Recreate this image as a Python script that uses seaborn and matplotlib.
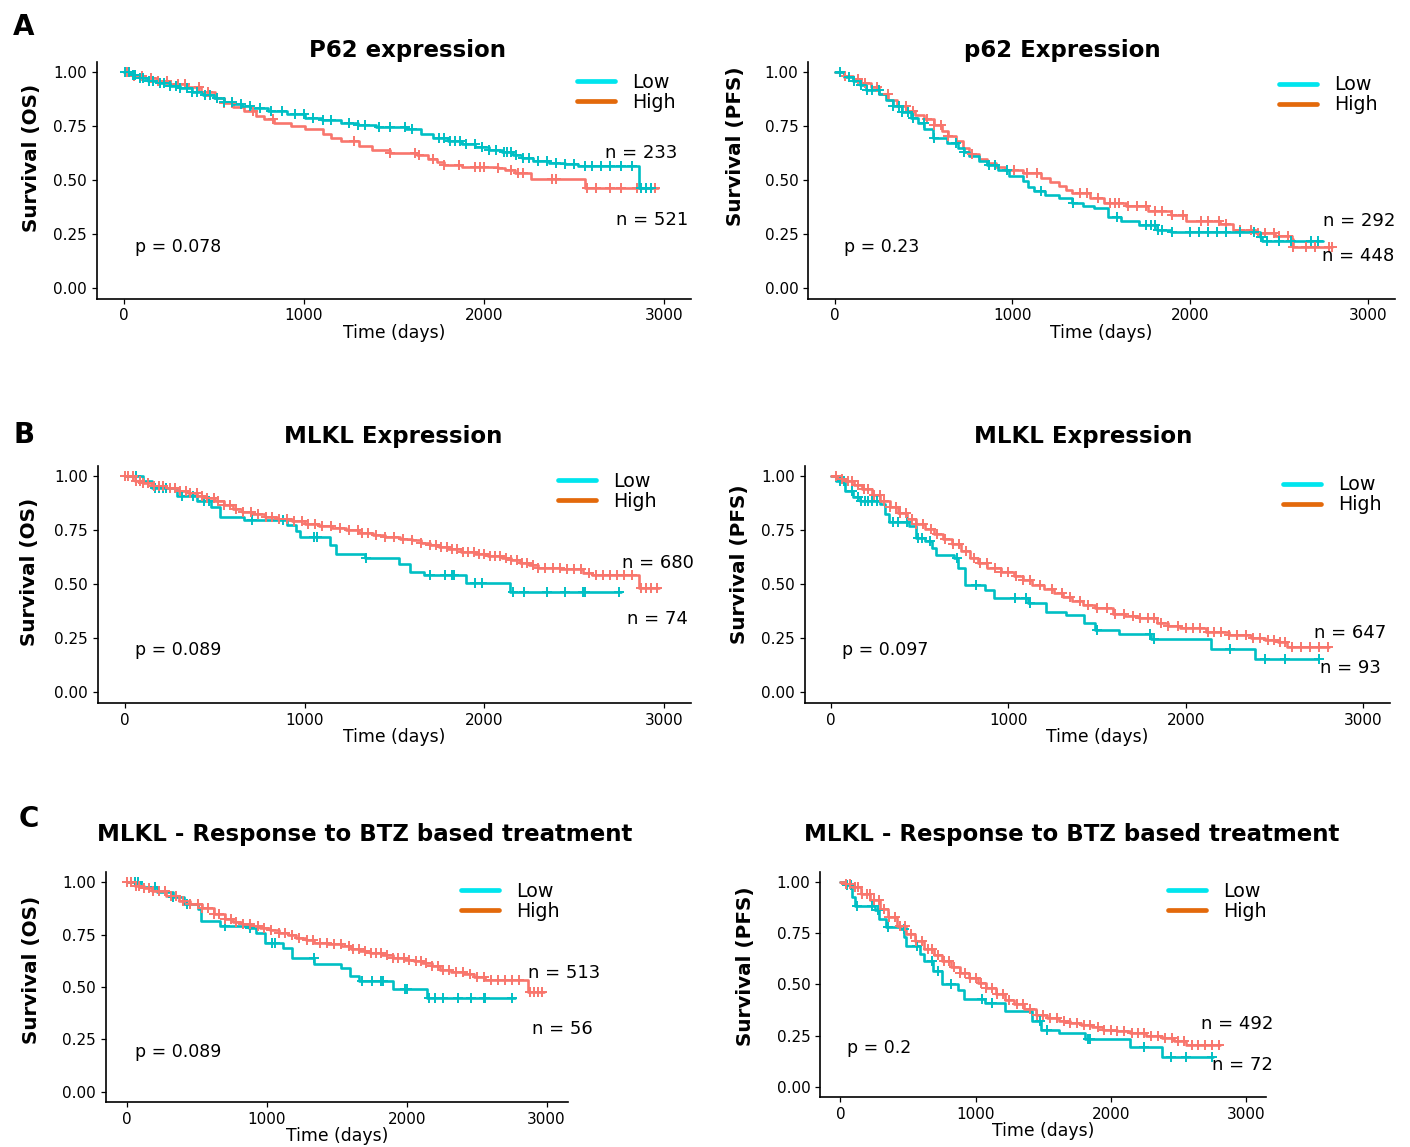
import numpy as np
import matplotlib
matplotlib.use("Agg")
import matplotlib.pyplot as plt
from matplotlib.lines import Line2D
import seaborn as sns

sns.set_style("white")
plt.rcParams['font.family'] = ['DejaVu Sans']
plt.rcParams['text.color'] = 'black'
plt.rcParams['axes.labelcolor'] = 'black'
plt.rcParams['xtick.color'] = 'black'
plt.rcParams['ytick.color'] = 'black'

# ---- data: Kaplan-Meier step points (time in days, survival) and censor times ----
# A, OS
a_os_low_t = [0, 40, 90, 137, 200, 260, 311, 380, 440, 500, 560, 609, 660, 708, 800, 907, 1007, 1100, 1206,
              1300, 1404, 1566, 1653, 1720, 1802, 1880, 1951, 2030, 2100, 2160, 2212, 2274, 2360, 2448, 2523,
              2859, 2933]
a_os_low_s = [1.0, 0.99, 0.975, 0.961, 0.95, 0.938, 0.927, 0.91, 0.895, 0.883, 0.862, 0.852, 0.842, 0.834,
              0.822, 0.809, 0.790, 0.778, 0.767, 0.757, 0.746, 0.736, 0.712, 0.697, 0.681, 0.667, 0.653, 0.642,
              0.631, 0.618, 0.603, 0.588, 0.580, 0.575, 0.565, 0.463, 0.463]
a_os_low_cens = [10, 30, 50, 65, 90, 110, 140, 165, 200, 225, 260, 290, 315, 350, 380, 410, 450, 480, 520, 560,
                 600, 650, 700, 760, 820, 880, 950, 1000, 1050, 1110, 1150, 1250, 1300, 1340, 1420, 1480, 1560,
                 1600, 1750, 1780, 1810, 1840, 1865, 1900, 1950, 1990, 2030, 2070, 2110, 2130, 2150, 2180, 2215,
                 2250, 2300, 2350, 2400, 2450, 2500, 2560, 2600, 2650, 2700, 2760, 2820, 2870, 2900, 2930]
a_os_high_t = [0, 60, 120, 186, 260, 360, 430, 510, 560, 609, 670, 733, 780, 833, 932, 1007, 1106, 1150, 1206,
               1305, 1380, 1479, 1628, 1690, 1740, 1777, 1877, 2076, 2120, 2175, 2262, 2560, 2965]
a_os_high_s = [1.0, 0.985, 0.972, 0.961, 0.947, 0.933, 0.91, 0.883, 0.86, 0.84, 0.82, 0.798, 0.782, 0.767,
               0.751, 0.736, 0.712, 0.697, 0.681, 0.658, 0.639, 0.627, 0.616, 0.596, 0.585, 0.572, 0.561, 0.557,
               0.545, 0.533, 0.507, 0.463, 0.463]
a_os_high_cens = [20, 60, 100, 150, 190, 240, 300, 340, 420, 470, 520, 560, 600, 720, 830, 1280, 1480, 1620,
                  1640, 1720, 1780, 1860, 1950, 1980, 2000, 2080, 2150, 2190, 2220, 2380, 2400, 2570, 2620,
                  2700, 2760, 2850, 2950]

# A, PFS
a_pfs_low_t = [0, 50, 101, 140, 176, 252, 290, 328, 380, 429, 470, 504, 555, 630, 693, 730, 756, 810, 857, 920,
               983, 1059, 1090, 1122, 1185, 1260, 1336, 1400, 1462, 1538, 1613, 1714, 1815, 1891, 2395, 2407,
               2748]
a_pfs_low_s = [1.0, 0.98, 0.961, 0.94, 0.918, 0.899, 0.87, 0.844, 0.815, 0.79, 0.765, 0.736, 0.697, 0.673,
               0.65, 0.63, 0.611, 0.59, 0.572, 0.545, 0.518, 0.495, 0.47, 0.451, 0.432, 0.417, 0.393, 0.382,
               0.37, 0.331, 0.308, 0.292, 0.269, 0.261, 0.238, 0.218, 0.218]
a_pfs_low_cens = [30, 80, 110, 150, 180, 210, 250, 330, 360, 380, 410, 440, 500, 560, 680, 730, 870, 900, 970,
                  1160, 1340, 1590, 1750, 1780, 1800, 1820, 1840, 1900, 2000, 2050, 2100, 2150, 2200, 2280,
                  2360, 2400, 2430, 2500, 2570, 2680, 2720]
a_pfs_high_t = [0, 50, 101, 150, 202, 250, 302, 350, 403, 450, 504, 560, 605, 640, 681, 720, 756, 810, 857,
                910, 958, 1059, 1160, 1210, 1260, 1300, 1336, 1437, 1513, 1638, 1765, 1891, 1979, 2168, 2244,
                2370, 2480, 2571, 2580, 2798]
a_pfs_high_s = [1.0, 0.985, 0.969, 0.95, 0.93, 0.9, 0.871, 0.845, 0.821, 0.80, 0.782, 0.755, 0.728, 0.705,
                0.681, 0.65, 0.619, 0.598, 0.58, 0.563, 0.549, 0.533, 0.51, 0.49, 0.471, 0.455, 0.44, 0.417,
                0.393, 0.378, 0.358, 0.339, 0.308, 0.295, 0.269, 0.253, 0.24, 0.227, 0.19, 0.19]
a_pfs_high_cens = [60, 130, 170, 240, 300, 400, 440, 520, 560, 600, 640, 770, 1010, 1080, 1140, 1380, 1420,
                   1480, 1550, 1580, 1600, 1650, 1700, 1750, 1800, 1840, 1900, 1960, 2060, 2100, 2160, 2200,
                   2280, 2340, 2380, 2420, 2470, 2500, 2550, 2580, 2650, 2700, 2780, 2800]

# B, OS
b_os_low_t = [0, 100, 154, 292, 404, 478, 528, 665, 902, 952, 977, 1139, 1176, 1338, 1525, 1588, 1662, 1899,
              2143, 2758]
b_os_low_s = [1.0, 0.981, 0.947, 0.911, 0.888, 0.86, 0.813, 0.798, 0.776, 0.748, 0.72, 0.682, 0.642, 0.623,
              0.595, 0.558, 0.542, 0.506, 0.464, 0.464]
b_os_low_cens = [60, 170, 190, 210, 230, 320, 380, 440, 470, 710, 880, 1050, 1070, 1340, 1700, 1780, 1820,
                 1830, 1950, 1990, 2160, 2220, 2350, 2450, 2550, 2560, 2750]
b_os_high_t = [0, 55, 100, 154, 230, 304, 350, 404, 450, 503, 550, 603, 650, 703, 780, 852, 930, 1002, 1080,
               1151, 1230, 1301, 1380, 1450, 1530, 1600, 1650, 1699, 1750, 1799, 1870, 1949, 2020, 2098, 2150,
               2198, 2250, 2298, 2422, 2547, 2597, 2858, 2970]
b_os_high_s = [1.0, 0.981, 0.97, 0.958, 0.947, 0.935, 0.922, 0.911, 0.9, 0.888, 0.87, 0.849, 0.837, 0.826,
               0.813, 0.802, 0.792, 0.782, 0.772, 0.763, 0.751, 0.74, 0.73, 0.72, 0.712, 0.704, 0.692, 0.682,
               0.672, 0.662, 0.652, 0.642, 0.632, 0.623, 0.612, 0.6, 0.588, 0.576, 0.569, 0.553, 0.542, 0.483,
               0.483]
b_os_high_cens = [0, 20, 45, 60, 85, 100, 130, 160, 190, 215, 250, 280, 310, 340, 365, 400, 430, 460, 495, 520,
                  550, 585, 620, 660, 700, 740, 785, 820, 860, 900, 940, 985, 1020, 1060, 1100, 1150, 1200,
                  1250, 1300, 1320, 1355, 1400, 1450, 1500, 1550, 1600, 1650, 1700, 1730, 1760, 1790, 1820,
                  1850, 1880, 1910, 1945, 1970, 2000, 2030, 2060, 2090, 2120, 2150, 2180, 2210, 2240, 2270,
                  2300, 2340, 2380, 2420, 2460, 2500, 2540, 2580, 2620, 2660, 2700, 2740, 2780, 2820, 2870,
                  2900, 2930, 2960]

# B, PFS
b_pfs_low_t = [0, 25, 76, 126, 164, 277, 302, 328, 441, 479, 529, 567, 592, 693, 718, 756, 869, 920, 1109,
               1210, 1323, 1424, 1487, 1626, 1802, 2143, 2390, 2748]
b_pfs_low_s = [1.0, 0.981, 0.935, 0.903, 0.888, 0.872, 0.826, 0.787, 0.771, 0.717, 0.701, 0.67, 0.636, 0.623,
               0.576, 0.498, 0.475, 0.436, 0.413, 0.374, 0.358, 0.319, 0.288, 0.268, 0.246, 0.202, 0.153,
               0.153]
b_pfs_low_cens = [50, 70, 120, 150, 170, 190, 210, 230, 260, 350, 380, 430, 490, 510, 560, 710, 820, 1040,
                  1100, 1120, 1500, 1800, 1820, 2250, 2450, 2560, 2750]
b_pfs_high_t = [0, 40, 76, 130, 176, 230, 277, 330, 378, 430, 479, 530, 580, 630, 681, 730, 781, 830, 882,
                960, 1034, 1080, 1134, 1200, 1260, 1310, 1361, 1420, 1487, 1588, 1660, 1739, 1840, 1900, 1966,
                2117, 2244, 2370, 2450, 2521, 2571, 2811]
b_pfs_high_s = [1.0, 0.99, 0.981, 0.962, 0.942, 0.915, 0.888, 0.86, 0.833, 0.805, 0.779, 0.755, 0.732, 0.708,
                0.685, 0.655, 0.623, 0.598, 0.576, 0.556, 0.537, 0.518, 0.498, 0.478, 0.459, 0.44, 0.421,
                0.405, 0.389, 0.363, 0.353, 0.343, 0.319, 0.308, 0.296, 0.28, 0.265, 0.249, 0.242, 0.234,
                0.21, 0.21]
b_pfs_high_cens = [30, 60, 95, 120, 150, 185, 210, 240, 275, 300, 330, 365, 390, 420, 455, 480, 520, 565, 600,
                   640, 685, 720, 760, 805, 840, 880, 925, 960, 1000, 1045, 1080, 1120, 1180, 1245, 1300, 1350,
                   1405, 1450, 1500, 1555, 1600, 1650, 1700, 1740, 1785, 1820, 1860, 1900, 1955, 2000, 2040,
                   2080, 2125, 2160, 2200, 2245, 2290, 2340, 2380, 2420, 2465, 2500, 2530, 2560, 2600, 2650,
                   2700, 2750, 2800]

# C, OS
c_os_low_t = [0, 103, 215, 328, 408, 505, 531, 666, 875, 923, 987, 1116, 1180, 1341, 1534, 1592, 1662, 1904,
              2145, 2772]
c_os_low_s = [1.0, 0.976, 0.952, 0.928, 0.895, 0.871, 0.815, 0.791, 0.783, 0.759, 0.711, 0.686, 0.638, 0.609,
              0.59, 0.55, 0.526, 0.49, 0.445, 0.445]
c_os_low_cens = [60, 80, 200, 330, 430, 700, 880, 1040, 1060, 1340, 1680, 1750, 1820, 1830, 1990, 2000, 2160,
                 2200, 2260, 2370, 2460, 2550, 2560, 2750]
c_os_high_t = [0, 55, 120, 183, 280, 376, 450, 537, 620, 698, 760, 826, 890, 955, 1020, 1084, 1150, 1212, 1280,
               1341, 1440, 1534, 1600, 1662, 1740, 1823, 1900, 1984, 2050, 2113, 2180, 2241, 2320, 2402, 2480,
               2563, 2868, 2981]
c_os_high_s = [1.0, 0.984, 0.972, 0.96, 0.936, 0.912, 0.895, 0.879, 0.85, 0.823, 0.812, 0.802, 0.791, 0.78,
               0.77, 0.759, 0.747, 0.735, 0.723, 0.711, 0.703, 0.695, 0.682, 0.67, 0.66, 0.651, 0.64, 0.63,
               0.622, 0.614, 0.598, 0.582, 0.571, 0.561, 0.548, 0.534, 0.477, 0.477]
c_os_high_cens = [0, 30, 65, 90, 120, 155, 190, 230, 270, 315, 350, 400, 450, 505, 540, 580, 625, 660, 700,
                  745, 780, 830, 880, 935, 980, 1030, 1085, 1130, 1180, 1230, 1285, 1330, 1380, 1430, 1480,
                  1530, 1585, 1620, 1660, 1700, 1745, 1780, 1820, 1860, 1905, 1940, 1980, 2020, 2065, 2100,
                  2140, 2180, 2225, 2260, 2300, 2350, 2400, 2455, 2500, 2550, 2600, 2655, 2700, 2750, 2800,
                  2880, 2910, 2940, 2970]

# C, PFS
c_pfs_low_t = [0, 40, 89, 106, 255, 288, 338, 438, 471, 487, 587, 620, 686, 752, 868, 918, 1067, 1216, 1415,
               1482, 1614, 1813, 2145, 2377, 2758]
c_pfs_low_s = [1.0, 0.984, 0.926, 0.885, 0.861, 0.82, 0.782, 0.77, 0.73, 0.689, 0.648, 0.615, 0.566, 0.5,
               0.475, 0.431, 0.41, 0.369, 0.32, 0.279, 0.262, 0.234, 0.192, 0.144, 0.144]
c_pfs_low_cens = [50, 80, 120, 230, 280, 350, 470, 570, 680, 720, 820, 1050, 1120, 1480, 1530, 1830, 1850,
                  2250, 2450, 2560, 2750]
c_pfs_high_t = [0, 40, 89, 150, 222, 290, 355, 420, 487, 550, 620, 690, 752, 820, 885, 950, 1018, 1080, 1150,
                1220, 1283, 1360, 1448, 1530, 1614, 1700, 1780, 1860, 1946, 2050, 2145, 2260, 2377, 2470, 2559,
                2807]
c_pfs_high_s = [1.0, 0.99, 0.975, 0.94, 0.91, 0.87, 0.828, 0.787, 0.746, 0.71, 0.672, 0.643, 0.615, 0.585,
                0.557, 0.532, 0.508, 0.48, 0.451, 0.425, 0.402, 0.378, 0.352, 0.335, 0.32, 0.31, 0.303, 0.29,
                0.279, 0.27, 0.262, 0.25, 0.238, 0.222, 0.205, 0.205]
c_pfs_high_cens = [40, 70, 105, 130, 160, 195, 220, 250, 285, 320, 360, 405, 440, 480, 525, 560, 600, 645, 680,
                   720, 765, 800, 840, 885, 920, 960, 1005, 1040, 1080, 1125, 1160, 1200, 1250, 1305, 1350,
                   1400, 1455, 1500, 1550, 1600, 1655, 1700, 1750, 1800, 1850, 1905, 1950, 2000, 2050, 2100,
                   2155, 2200, 2250, 2300, 2350, 2400, 2455, 2500, 2540, 2600, 2650, 2700, 2750, 2800]

titles = ["P62 expression", "p62 Expression", "MLKL Expression", "MLKL Expression",
          "MLKL - Response to BTZ based treatment", "MLKL - Response to BTZ based treatment"]
ylabels = ["Survival (OS)", "Survival (PFS)"] * 3
p_labels = ["p = 0.078", "p = 0.23", "p = 0.089", "p = 0.097", "p = 0.089", "p = 0.2"]
n_upper = ["n = 233", "n = 292", "n = 680", "n = 647", "n = 513", "n = 492"]
n_lower = ["n = 521", "n = 448", "n = 74", "n = 93", "n = 56", "n = 72"]

curves = [
    (a_os_low_t, a_os_low_s, a_os_low_cens, a_os_high_t, a_os_high_s, a_os_high_cens),
    (a_pfs_low_t, a_pfs_low_s, a_pfs_low_cens, a_pfs_high_t, a_pfs_high_s, a_pfs_high_cens),
    (b_os_low_t, b_os_low_s, b_os_low_cens, b_os_high_t, b_os_high_s, b_os_high_cens),
    (b_pfs_low_t, b_pfs_low_s, b_pfs_low_cens, b_pfs_high_t, b_pfs_high_s, b_pfs_high_cens),
    (c_os_low_t, c_os_low_s, c_os_low_cens, c_os_high_t, c_os_high_s, c_os_high_cens),
    (c_pfs_low_t, c_pfs_low_s, c_pfs_low_cens, c_pfs_high_t, c_pfs_high_s, c_pfs_high_cens),
]

# ---- layout (pixels) ----
W, H = 1410, 1147
LOW_COL, HIGH_COL = "#00BFC4", "#F8766D"
LEG_LOW, LEG_HIGH = "#00E5EE", "#E3690B"

# axes box: left, top, right, bottom
boxes = [(96.5, 61.6, 691, 298.6), (808, 61.6, 1394.5, 298.6),
         (97.8, 465.7, 691, 703), (804.5, 465.7, 1389.6, 703),
         (105.9, 871.8, 567.5, 1102), (820.2, 871.8, 1266, 1097)]
title_pos = [(408, 56.7), (1062, 57.3), (393, 442.7), (1083, 442.7), (365, 840.7), (1072, 840.7)]
ylab_pos = [(32, 157.7), (735, 146), (30, 571.7), (739, 564), (32, 970), (746, 965.8)]
leg_pos = [(577, 81), (1279, 83.5), (557.7, 480), (1283, 483.5), (460.7, 890), (1167.5, 890)]
n_upper_pos = [(2871, 0.627), (2949, 0.308), (2965, 0.60), (2929, 0.273), (3125, 0.566), (2940, 0.308)]
n_lower_pos = [(2933, 0.316), (2944, 0.149), (2965, 0.34), (2929, 0.11), (3116, 0.297), (2973, 0.107)]
p_pos = [(62, 0.19), (55, 0.19), (55, 0.195), (60, 0.195), (55, 0.19), (50, 0.19)]
low_on_top = [True, True, False, False, False, False]


def step_value(t, s, c):
    idx = np.searchsorted(np.asarray(t), np.asarray(c), side='right') - 1
    return np.asarray(s)[idx]


fig = plt.figure(figsize=(W / 100, H / 100), dpi=100)

for i in range(6):
    l, t, r, b = boxes[i]
    ax = fig.add_axes([l / W, 1 - b / H, (r - l) / W, (b - t) / H])
    lt, ls, lc, ht, hs, hc = curves[i]
    groups = [(ht, hs, hc, HIGH_COL), (lt, ls, lc, LOW_COL)]
    if not low_on_top[i]:
        groups = groups[::-1]
    for gt, gs, gc, col in groups:
        sns.lineplot(x=gt, y=gs, drawstyle='steps-post', color=col, lw=1.9, ax=ax,
                     estimator=None, sort=False)
        sns.scatterplot(x=gc, y=step_value(gt, gs, gc), marker='+', s=42, linewidth=1.4,
                        color=col, ax=ax, zorder=3)

    ax.set_xlim(-150, 3150)
    ax.set_ylim(-0.05, 1.05)
    ax.set_xticks([0, 1000, 2000, 3000])
    ax.set_yticks([0, 0.25, 0.5, 0.75, 1.0])
    ax.set_yticklabels(["0.00", "0.25", "0.50", "0.75", "1.00"])
    ax.tick_params(labelsize=11, length=3.5, width=0.9, colors='black', direction='out',
                   left=True, bottom=True)
    for side in ['top', 'right']:
        ax.spines[side].set_visible(False)
    for side in ['left', 'bottom']:
        ax.spines[side].set_color('black')
        ax.spines[side].set_linewidth(1.2)

    ax.set_xlabel("Time (days)", fontsize=12.4)
    ax.xaxis.set_label_coords(0.5, -25 / (b - t))
    ax.xaxis.label.set_va('top')
    ax.set_ylabel(ylabels[i], fontsize=14.4, fontweight='bold')
    yx, yy = ylab_pos[i]
    ax.yaxis.set_label_coords((yx - l) / (r - l), (b - yy) / (b - t))
    ax.yaxis.label.set_va('center')

    ax.text(*p_pos[i], p_labels[i], fontsize=12.5, ha='left', va='center')
    ax.text(*n_upper_pos[i], n_upper[i], fontsize=13, ha='center', va='center', clip_on=False)
    ax.text(*n_lower_pos[i], n_lower[i], fontsize=13, ha='center', va='center', clip_on=False)

    handles = [Line2D([], [], color=LEG_LOW, lw=3.4), Line2D([], [], color=LEG_HIGH, lw=3.4)]
    lx, ly = leg_pos[i]
    ax.legend(handles, ["Low", "High"], loc='upper left', frameon=False, fontsize=13.7,
              bbox_to_anchor=(lx / W, 1 - (ly - 8) / H), bbox_transform=fig.transFigure,
              borderpad=0, borderaxespad=0, handlelength=2.0, handletextpad=0.9, labelspacing=0.05)

    tx, ty = title_pos[i]
    fig.text(tx / W, 1 - ty / H, titles[i], fontsize=16.5, fontweight='bold', ha='center', va='baseline')

for letter, x, y in [("A", 12.5, 35), ("B", 13.4, 442.7), ("C", 18.7, 827.3)]:
    fig.text(x / W, 1 - y / H, letter, fontsize=20, fontweight='bold', ha='left', va='baseline')

fig.savefig("out.png", dpi=100)
